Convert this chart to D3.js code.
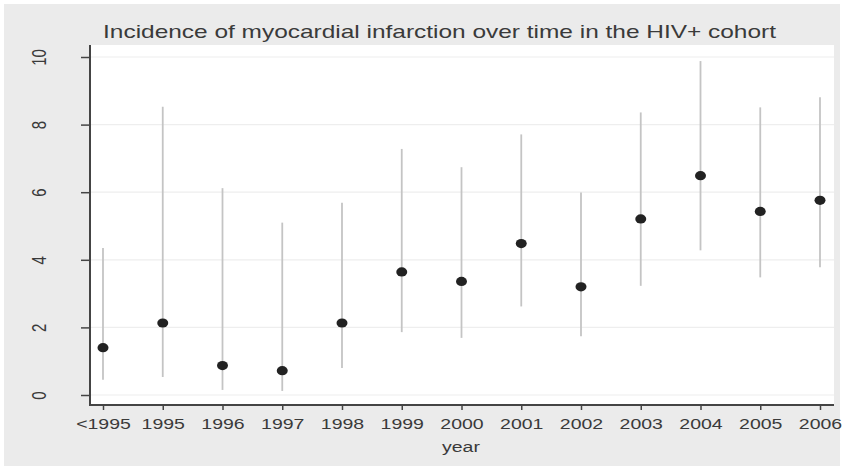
<!DOCTYPE html>
<html>
<head>
<meta charset="utf-8">
<script src="https://cdn.jsdelivr.net/npm/d3@7"></script>
<style>
  body { margin: 0; background: #fff; }
  text { font-family: "Liberation Sans", Arial, sans-serif; fill: #3a3a3a; }
</style>
</head>
<body>
<div id="chart"></div>
<script>
// values
var years = ["<1995", "1995", "1996", "1997", "1998", "1999", "2000", "2001", "2002", "2003", "2004", "2005", "2006"];
var rate  = [1.40, 2.13, 0.87, 0.72, 2.13, 3.64, 3.36, 4.48, 3.20, 5.21, 6.49, 5.43, 5.76];
var lower = [0.45, 0.53, 0.15, 0.12, 0.80, 1.86, 1.69, 2.62, 1.74, 3.23, 4.28, 3.48, 3.78];
var upper = [4.35, 8.53, 6.12, 5.10, 5.69, 7.28, 6.74, 7.71, 5.99, 8.36, 9.88, 8.51, 8.81];
var yTicks = [0, 2, 4, 6, 8, 10];

var width = 844, height = 466;
var plot = {left: 90, right: 834, top: 45, bottom: 405};
var stretch = 1.3; // the source image is widened, text included

var svg = d3.select("#chart").append("svg")
    .attr("width", width)
    .attr("height", height);

// outer gray panel + white plot region
svg.append("rect")
    .attr("x", 4).attr("y", 4)
    .attr("width", 836).attr("height", 462)
    .style("fill", "#ebebeb");

svg.append("rect")
    .attr("x", plot.left).attr("y", plot.top)
    .attr("width", plot.right - plot.left)
    .attr("height", plot.bottom - plot.top)
    .style("fill", "#fff");

var x = d3.scalePoint()
    .domain(years)
    .range([103, 820]);

var y = d3.scaleLinear()
    .domain([0, 10])
    .range([395, 57]);

// gridlines
svg.append("g")
  .selectAll("line")
    .data(yTicks)
  .enter().append("line")
    .attr("x1", plot.left)
    .attr("x2", plot.right)
    .attr("y1", function(d) { return y(d); })
    .attr("y2", function(d) { return y(d); })
    .style("stroke", "#eeeeee")
    .style("stroke-width", 1.2);

// y axis
var yAxis = d3.axisLeft(y)
    .tickValues(yTicks)
    .tickSize(9)
    .tickPadding(0)
    .tickFormat(d3.format("d"));

var gy = svg.append("g")
    .attr("transform", "translate(" + plot.left + ",0)")
    .call(yAxis);

gy.select(".domain").remove();
gy.append("line")
    .attr("x1", 0).attr("x2", 0)
    .attr("y1", plot.top).attr("y2", plot.bottom)
    .style("stroke", "#444").style("stroke-width", 2);
gy.selectAll(".tick line").style("stroke", "#444").style("stroke-width", 1.5);
gy.selectAll(".tick text")
    .attr("x", 0).attr("dy", null)
    .attr("transform", "translate(-50.5,0) scale(" + stretch + ",1) rotate(-90)")
    .attr("text-anchor", "middle")
    .attr("dominant-baseline", "central")
    .style("font-size", "15px")
    .style("fill", "#3a3a3a");

// x axis
var xAxis = d3.axisBottom(x)
    .tickSize(5)
    .tickPadding(6);

var gx = svg.append("g")
    .attr("transform", "translate(0," + plot.bottom + ")")
    .call(xAxis);

gx.select(".domain").remove();
gx.append("line")
    .attr("x1", plot.left - 1).attr("x2", plot.right)
    .attr("y1", 0).attr("y2", 0)
    .style("stroke", "#444").style("stroke-width", 2);
gx.selectAll(".tick line").style("stroke", "#444").style("stroke-width", 1.5);
gx.selectAll(".tick text")
    .attr("dy", null)
    .attr("y", 24)
    .attr("transform", "scale(" + stretch + ",1)")
    .style("font-size", "15px")
    .style("fill", "#3a3a3a");

svg.append("text")
    .attr("transform", "translate(461,452) scale(" + stretch + ",1)")
    .attr("text-anchor", "middle")
    .style("font-size", "15px")
    .text("year");

// title
svg.append("text")
    .attr("transform", "translate(439.5,38) scale(" + stretch + ",1)")
    .attr("text-anchor", "middle")
    .style("font-size", "18.8px")
    .text("Incidence of myocardial infarction over time in the HIV+ cohort");

// confidence intervals
svg.append("g")
  .selectAll("line")
    .data(years)
  .enter().append("line")
    .attr("x1", function(d) { return x(d); })
    .attr("x2", function(d) { return x(d); })
    .attr("y1", function(d, i) { return y(lower[i]); })
    .attr("y2", function(d, i) { return y(upper[i]); })
    .style("stroke", "#c4c4c4")
    .style("stroke-width", 1.8);

// point estimates
svg.append("g")
  .selectAll("ellipse")
    .data(years)
  .enter().append("ellipse")
    .attr("cx", function(d) { return x(d); })
    .attr("cy", function(d, i) { return y(rate[i]); })
    .attr("rx", 5.5)
    .attr("ry", 4.6)
    .style("fill", "#222");
</script>
</body>
</html>
